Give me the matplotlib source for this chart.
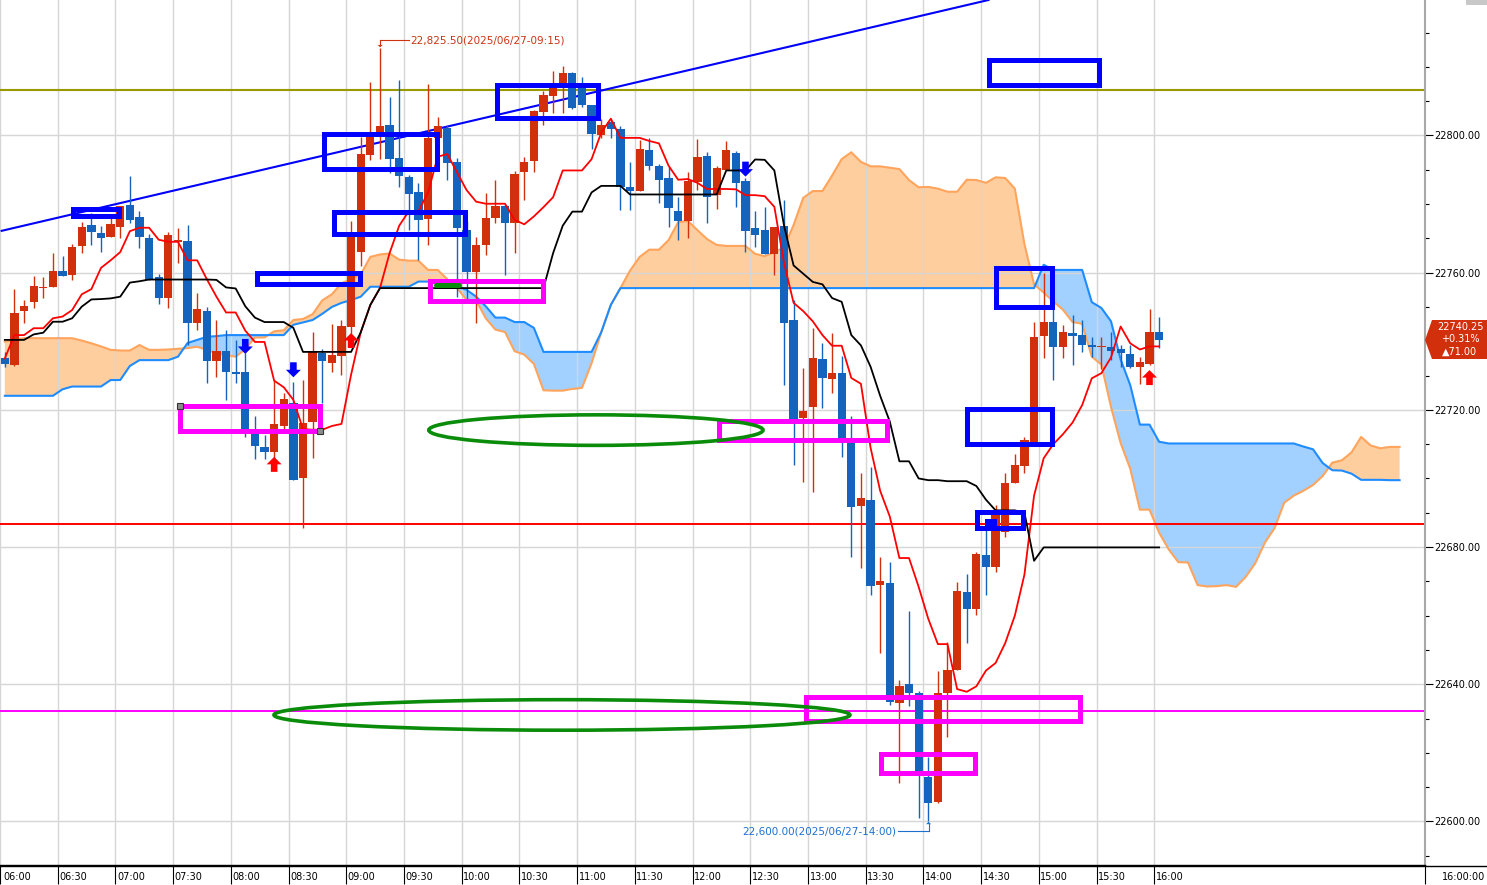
import numpy as np
import matplotlib
matplotlib.use("Agg")
import matplotlib.pyplot as plt
from matplotlib.patches import Rectangle, Ellipse, Polygon
from matplotlib.lines import Line2D
from matplotlib.ticker import MultipleLocator, FuncFormatter, FixedLocator
from matplotlib.transforms import blended_transform_factory, ScaledTranslation

W, H, DPI = 1487, 885, 100

# ---------------- data (5-minute bars, 06:00 .. 16:00) ----------------
time_labels = ["06:00", "06:30", "07:00", "07:30", "08:00", "08:30", "09:00", "09:30",
               "10:00", "10:30", "11:00", "11:30", "12:00", "12:30", "13:00", "13:30",
               "14:00", "14:30", "15:00", "15:30", "16:00"]
bars_per_label = 6

opens = [22735.2, 22733.2, 22748.9, 22751.5, 22755.4, 22755.9, 22760.5, 22759.4, 22767.9, 22773.9,
         22771.6, 22770.4, 22773.4, 22779.7, 22776.2, 22770.0, 22758.8, 22752.7, 22769.0, 22769.2,
         22745.2, 22748.8, 22734.3, 22737.2, 22731.0, 22731.0, 22714.1, 22709.2, 22707.7, 22715.4,
         22722.1, 22700.2, 22716.5, 22736.7, 22733.8, 22735.8, 22744.3, 22766.1, 22794.3, 22799.6,
         22803.1, 22793.4, 22788.0, 22783.4, 22775.7, 22799.2, 22802.1, 22792.2, 22772.5, 22760.3,
         22768.1, 22776.0, 22779.4, 22774.6, 22789.4, 22792.7, 22806.9, 22811.6, 22814.2, 22818.2,
         22814.0, 22808.9, 22800.2, 22803.8, 22801.8, 22784.9, 22783.9, 22795.8, 22791.1, 22787.6,
         22778.1, 22775.2, 22786.5, 22794.0, 22782.6, 22789.9, 22794.8, 22786.7, 22773.1, 22772.4,
         22765.5, 22773.6, 22746.2, 22717.5, 22720.8, 22734.8, 22728.9, 22730.8, 22710.2, 22692.0,
         22693.7, 22668.9, 22669.6, 22634.5, 22640.1, 22637.4, 22613.1, 22605.8, 22637.4, 22644.3,
         22666.9, 22662.0, 22677.7, 22674.3, 22684.5, 22698.6, 22703.7, 22710.7, 22741.5, 22745.7,
         22738.4, 22742.5, 22741.8, 22738.9, 22738.2, 22738.2, 22737.7, 22736.3, 22732.6, 22733.5,
         22742.75]
highs = [22737.0, 22755.2, 22752.0, 22759.0, 22758.8, 22765.8, 22764.9, 22768.3, 22774.9, 22777.4,
         22773.5, 22776.0, 22779.4, 22788.2, 22778.0, 22771.3, 22759.5, 22772.0, 22772.9, 22773.9,
         22754.0, 22750.1, 22746.2, 22743.3, 22740.4, 22736.6, 22718.2, 22712.7, 22728.7, 22725.0,
         22728.2, 22728.7, 22742.8, 22737.8, 22745.0, 22746.2, 22775.1, 22799.6, 22815.7, 22825.5,
         22811.3, 22816.2, 22788.5, 22786.0, 22815.0, 22805.5, 22803.0, 22793.4, 22775.0, 22770.5,
         22783.1, 22787.0, 22780.0, 22789.5, 22793.6, 22807.5, 22813.0, 22818.8, 22820.3, 22818.5,
         22817.0, 22809.0, 22804.7, 22804.5, 22802.8, 22792.4, 22798.7, 22799.2, 22791.6, 22790.9,
         22782.1, 22789.4, 22799.0, 22795.3, 22791.2, 22798.4, 22795.5, 22787.5, 22778.1, 22779.1,
         22773.3, 22781.3, 22752.0, 22732.1, 22743.8, 22739.6, 22742.5, 22735.7, 22718.2, 22701.7,
         22703.4, 22677.2, 22675.5, 22641.3, 22661.5, 22638.0, 22618.7, 22643.8, 22652.4, 22669.9,
         22672.0, 22678.7, 22687.9, 22692.3, 22701.5, 22707.0, 22712.1, 22745.7, 22759.8, 22750.0,
         22744.8, 22747.7, 22746.2, 22741.3, 22741.3, 22742.8, 22738.9, 22738.9, 22735.5, 22749.5,
         22747.2]
lows = [22732.5, 22732.9, 22745.4, 22749.8, 22752.5, 22755.9, 22759.1, 22758.0, 22765.8, 22768.1,
        22766.1, 22770.4, 22770.0, 22774.6, 22767.1, 22758.0, 22751.0, 22749.8, 22762.7, 22738.9,
        22743.3, 22727.9, 22729.7, 22722.9, 22727.9, 22712.2, 22705.6, 22705.6, 22703.0, 22714.1,
        22699.5, 22685.5, 22705.9, 22721.9, 22731.1, 22730.2, 22741.3, 22762.0, 22792.9, 22793.0,
        22789.0, 22785.0, 22772.4, 22763.7, 22768.1, 22798.5, 22787.0, 22753.0, 22752.0, 22745.2,
        22765.2, 22774.4, 22759.3, 22765.8, 22781.2, 22789.4, 22803.0, 22806.5, 22806.5, 22807.6,
        22808.4, 22796.0, 22799.2, 22799.2, 22778.3, 22778.3, 22783.9, 22790.0, 22780.4, 22773.4,
        22769.5, 22770.0, 22784.1, 22774.6, 22778.5, 22789.9, 22779.1, 22766.1, 22767.6, 22765.5,
        22759.3, 22727.3, 22703.9, 22699.1, 22696.1, 22720.5, 22725.0, 22706.4, 22677.2, 22673.8,
        22666.0, 22649.0, 22634.0, 22611.1, 22633.7, 22601.0, 22600.0, 22605.5, 22624.7, 22644.3,
        22651.9, 22660.2, 22666.0, 22672.8, 22683.0, 22698.6, 22701.5, 22710.7, 22735.0, 22728.7,
        22735.0, 22733.1, 22737.0, 22735.5, 22731.8, 22734.6, 22732.6, 22732.3, 22727.5, 22733.1,
        22738.0]
closes = [22733.4, 22748.2, 22750.3, 22756.1, 22755.9, 22760.5, 22759.1, 22767.5, 22773.3, 22771.9,
          22770.2, 22774.2, 22779.4, 22775.4, 22770.5, 22758.0, 22752.7, 22771.0, 22769.5, 22745.2,
          22749.4, 22734.3, 22737.2, 22731.0, 22730.6, 22714.1, 22709.6, 22707.6, 22715.9, 22723.2,
          22699.5, 22716.3, 22737.3, 22734.3, 22736.0, 22744.5, 22772.0, 22794.6, 22799.9, 22802.9,
          22793.2, 22788.3, 22782.9, 22775.4, 22799.4, 22802.8, 22791.9, 22773.1, 22760.3, 22768.1,
          22775.9, 22779.4, 22774.4, 22788.8, 22792.3, 22807.0, 22811.8, 22814.3, 22818.2, 22807.9,
          22809.0, 22800.5, 22803.1, 22801.8, 22784.9, 22783.9, 22796.1, 22791.2, 22787.0, 22779.0,
          22775.2, 22786.7, 22793.7, 22782.2, 22790.5, 22795.8, 22786.2, 22772.1, 22771.0, 22765.5,
          22773.3, 22745.2, 22717.4, 22719.8, 22735.2, 22729.2, 22730.8, 22711.4, 22691.8, 22694.4,
          22668.7, 22670.2, 22634.9, 22639.5, 22637.4, 22614.5, 22605.5, 22637.4, 22644.3, 22667.2,
          22662.0, 22678.0, 22674.3, 22689.9, 22698.8, 22703.9, 22711.2, 22741.3, 22745.7, 22738.4,
          22742.8, 22741.5, 22738.8, 22738.2, 22738.6, 22737.3, 22736.5, 22732.4, 22734.0, 22742.75,
          22740.25]

# conversion line (red) and base line (black)
tenkan = [22735.0, 22741.8, 22741.8, 22743.8, 22743.8, 22746.7, 22747.2, 22749.1, 22753.7, 22755.2,
          22761.4, 22763.6, 22766.0, 22772.1, 22773.1, 22773.1, 22769.6, 22769.0, 22769.0, 22763.6,
          22763.6, 22758.1, 22753.0, 22748.4, 22748.4, 22743.1, 22739.8, 22739.8, 22728.5, 22726.6,
          22722.9, 22714.4, 22714.2, 22714.2, 22715.3, 22715.9, 22730.3, 22742.6, 22750.6, 22755.5,
          22765.7, 22773.7, 22777.9, 22777.9, 22783.4, 22793.8, 22794.6, 22789.3, 22784.1, 22780.7,
          22780.1, 22780.1, 22780.1, 22775.4, 22774.1, 22776.4, 22779.1, 22782.0, 22789.8, 22789.8,
          22789.8, 22793.1, 22800.8, 22804.9, 22799.3, 22799.3, 22799.3, 22798.4, 22797.7, 22791.2,
          22787.1, 22787.3, 22786.2, 22784.4, 22784.4, 22784.4, 22784.3, 22782.6, 22782.6, 22782.3,
          22779.2, 22762.9, 22751.2, 22748.8, 22745.8, 22741.8, 22738.7, 22738.7, 22729.3, 22727.6,
          22709.0, 22696.4, 22688.9, 22676.8, 22676.8, 22668.4, 22659.1, 22651.7, 22651.7, 22638.6,
          22637.8, 22639.4, 22644.0, 22646.2, 22652.0, 22660.0, 22672.0, 22695.0, 22705.9, 22710.0,
          22712.9, 22716.3, 22721.4, 22729.2, 22730.7, 22735.3, 22744.3, 22739.4, 22737.6, 22738.5,
          22738.5]
kijun = [22740.4, 22740.4, 22740.4, 22742.0, 22742.5, 22745.7, 22745.7, 22746.7, 22750.1, 22752.2,
         22752.3, 22752.5, 22753.0, 22757.1, 22757.5, 22758.0, 22758.0, 22758.0, 22758.0, 22758.0,
         22758.0, 22758.0, 22757.9, 22755.7, 22755.4, 22750.2, 22746.9, 22745.6, 22745.6, 22745.6,
         22743.9, 22736.9, 22736.9, 22736.9, 22736.9, 22736.9, 22736.9, 22742.6, 22750.6, 22755.5,
         22755.5, 22755.5, 22755.5, 22755.5, 22755.5, 22755.5, 22755.5, 22755.5, 22755.5, 22755.5,
         22755.5, 22755.5, 22755.5, 22755.5, 22755.5, 22755.5, 22755.5, 22765.7, 22773.7, 22777.8,
         22777.8, 22783.4, 22785.3, 22785.3, 22785.3, 22782.8, 22782.8, 22782.8, 22782.8, 22782.8,
         22782.8, 22782.8, 22782.8, 22782.8, 22782.8, 22789.8, 22789.8, 22789.8, 22793.0, 22792.9,
         22789.8, 22773.8, 22762.1, 22759.7, 22757.3, 22756.6, 22752.6, 22751.5, 22741.8, 22738.8,
         22732.6, 22724.1, 22716.6, 22705.0, 22705.0, 22700.0, 22699.5, 22699.5, 22699.2, 22699.2,
         22699.2, 22697.8, 22693.8, 22690.7, 22690.7, 22690.7, 22690.0, 22676.0, 22679.9, 22679.9,
         22679.9, 22679.9, 22679.9, 22679.9, 22679.9, 22679.9, 22679.9, 22679.9, 22679.9, 22679.9,
         22679.9]

# leading spans (cloud), drawn 25 bars ahead: orange edge and blue edge
span_a = [22739.9, 22740.5, 22740.9, 22740.9, 22740.9, 22740.9, 22740.9, 22740.9, 22740.2, 22739.4,
          22738.5, 22737.5, 22737.3, 22737.3, 22738.9, 22737.5, 22737.5, 22737.6, 22737.8, 22738.0,
          22738.4, 22737.5, 22736.5, 22736.0, 22735.5, 22737.7, 22741.1, 22741.1, 22742.9, 22743.2,
          22746.2, 22746.5, 22747.9, 22751.9, 22753.7, 22756.9, 22758.1, 22759.5, 22764.6, 22765.3,
          22765.6, 22763.8, 22763.5, 22763.5, 22760.8, 22760.8, 22758.1, 22755.5, 22752.1, 22751.9,
          22746.7, 22743.4, 22742.7, 22737.1, 22736.1, 22733.4, 22725.7, 22725.6, 22725.6, 22726.1,
          22726.4, 22733.6, 22742.6, 22750.6, 22755.5, 22760.6, 22764.6, 22766.7, 22766.7, 22769.5,
          22774.7, 22775.1, 22772.4, 22769.8, 22768.1, 22767.8, 22767.8, 22767.8, 22765.5, 22764.8,
          22766.0, 22767.3, 22773.9, 22781.8, 22783.8, 22783.8, 22788.3, 22793.1, 22795.1, 22792.3,
          22791.0, 22791.0, 22790.6, 22790.2, 22787.0, 22784.9, 22785.0, 22784.5, 22783.6, 22783.6,
          22787.1, 22787.0, 22786.2, 22787.8, 22787.6, 22784.5, 22768.3, 22756.6, 22754.2, 22751.6,
          22749.2, 22745.6, 22745.1, 22735.5, 22733.2, 22720.8, 22710.3, 22702.8, 22690.9, 22690.9,
          22684.2, 22679.3, 22675.6, 22675.5, 22668.9, 22668.5, 22668.6, 22668.9, 22668.4, 22671.3,
          22675.3, 22681.3, 22685.5, 22692.9, 22695.0, 22696.4, 22698.1, 22700.7, 22704.6, 22705.3,
          22707.6, 22712.1, 22709.6, 22708.8, 22709.2, 22709.2]
span_b = ([22724.1] * 6 + [22726.0] + [22726.8] * 4 + [22728.7] * 2 + [22732.8] + [22734.5] * 4 +
          [22735.5, 22739.5, 22740.4, 22741.3, 22741.5] + [22741.8] * 7 +
          [22744.8, 22745.5, 22746.2, 22748.0, 22750.0, 22751.2, 22752.0, 22753.0] + [22755.9] * 5 +
          [22757.4] * 3 + [22756.4, 22756.0, 22755.0, 22753.0, 22750.2, 22746.9, 22746.9, 22745.6,
          22745.6, 22743.9] + [22736.9] * 6 + [22742.6, 22750.6] + [22755.5] * 44 + [22762.3] +
          [22760.8] * 4 + [22751.4, 22749.7, 22745.8, 22734.7, 22727.2, 22715.7, 22715.7, 22710.7] +
          [22710.2] * 14 + [22709.3, 22708.5, 22704.5, 22702.4, 22702.3, 22701.4, 22699.6, 22699.6,
          22699.6, 22699.5, 22699.5])

level_olive = 22813.25
level_red = 22686.75
level_magenta = 22632.25
trend_x = [-0.33, 102.26]
trend_y = [22772.2, 22839.5]

last_price_text = ["22740.25", "+0.31%", "\u25b271.00"]
last_price = 22740.25
high_note = (39, 22825.50, "22,825.50(2025/06/27-09:15)")
low_note = (96, 22600.00, "22,600.00(2025/06/27-14:00)")

# drawn objects (time index, price)
blue_boxes = [(7.12, 11.87, 22776.4, 22778.5), (33.16, 44.89, 22790.2, 22800.4),
              (34.2, 47.87, 22771.2, 22777.55), (26.2, 36.97, 22756.65, 22759.85),
              (51.15, 61.71, 22805.05, 22814.65), (102.3, 113.74, 22814.6, 22822.15),
              (103.07, 108.89, 22749.85, 22761.5), (100.03, 108.89, 22710.0, 22720.2),
              (101.07, 105.85, 22685.5, 22690.3)]
blue_fill_box = (101.85, 103.17, 22684.8, 22688.1)
magenta_boxes = [(18.2, 32.81, 22713.9, 22721.0), (44.16, 55.9, 22751.8, 22757.65),
                 (74.28, 91.72, 22711.2, 22716.8), (83.31, 111.76, 22629.15, 22636.4),
                 (91.13, 100.89, 22614.1, 22619.6)]
green_ellipses = [(61.45, 22714.1, 34.75, 8.9), (57.92, 22631.05, 59.88, 8.9)]
green_stub = (44.84, 47.2, 22756.5)
up_arrows = [(28, 22706.3), (36, 22742.4), (119, 22731.6)]
down_arrows = [(25, 22736.3), (30, 22729.5), (77, 22788.0)]

# ---------------- figure ----------------
UP, DN = "#D22F0C", "#1464BE"
fig = plt.figure(figsize=(W / DPI, H / DPI), dpi=DPI)
fig.patch.set_facecolor("white")
ax = fig.add_axes([0, 20 / H, 1425 / W, 865 / H])
XL = (-0.332, 147.64)
YL = (22587.3, 22839.5)
ax.set_xlim(*XL)
ax.set_ylim(*YL)
px_x = (XL[1] - XL[0]) / 1425.0
px_y = (YL[1] - YL[0]) / 865.0

for s in ("top", "left"):
    ax.spines[s].set_visible(False)
ax.spines["bottom"].set_color("black")
ax.spines["bottom"].set_linewidth(1.0)
ax.spines["right"].set_color("#A8A8A8")
ax.spines["right"].set_linewidth(1.5)

# grid
grid_x = [i * bars_per_label - 0.5 for i in range(len(time_labels))]
yticks = list(range(22600, 22801, 40))
for gx in grid_x:
    ax.axvline(gx, color="#D6D6D6", lw=1.0, zorder=1.5)
for gy in yticks:
    ax.axhline(gy, color="#D6D6D6", lw=1.0, zorder=1.5)

# cloud
xc = np.arange(len(span_a))
a = np.array(span_a)
b = np.array(span_b)
ax.fill_between(xc, a, b, where=a >= b, interpolate=True, color="#FFCE9E", lw=0, zorder=1)
ax.fill_between(xc, a, b, where=b > a, interpolate=True, color="#A2D0FF", lw=0, zorder=1)
ax.plot(xc, a, color="#FFA45C", lw=1.5, zorder=2)
ax.plot(xc, b, color="#1E8CFF", lw=1.5, zorder=2.1)

# level lines & trend line
ax.axhline(level_olive, color="#999900", lw=1.5, zorder=2.2)
ax.axhline(level_red, color="#FF0000", lw=1.4, zorder=2.2)
ax.axhline(level_magenta, color="#FF00FF", lw=1.4, zorder=2.2)
ax.plot(trend_x, trend_y, color="#0000FF", lw=1.5, zorder=2.3)

# candles
idx = np.arange(len(opens))
o, hi, lo, c = map(np.array, (opens, highs, lows, closes))
cols = np.where(c >= o, UP, DN)
ax.vlines(idx, lo, hi, colors=cols, lw=1.0, zorder=3)
body_lo = np.minimum(o, c)
body_h = np.maximum(np.abs(c - o), 0.45)
ax.bar(idx, body_h, 0.86, bottom=body_lo, color=cols, lw=0, zorder=3.1)

# indicator lines
ax.plot(np.arange(len(tenkan)), tenkan, color="#FF0000", lw=1.3, zorder=4)
ax.plot(np.arange(len(kijun)), kijun, color="#000000", lw=1.3, zorder=4)

# drawn objects
for x0, x1, y0, y1 in blue_boxes:
    ax.add_patch(Rectangle((x0, y0), x1 - x0, y1 - y0, fill=False, ec="#0000FF", lw=3.6, zorder=10))
x0, x1, y0, y1 = blue_fill_box
ax.add_patch(Rectangle((x0, y0), x1 - x0, y1 - y0, fc="#0000FF", ec="none", zorder=10))
for x0, x1, y0, y1 in magenta_boxes:
    ax.add_patch(Rectangle((x0, y0), x1 - x0, y1 - y0, fill=False, ec="#FF00FF", lw=3.6, zorder=10))
mb = magenta_boxes[0]
ax.plot([mb[0], mb[1]], [mb[3], mb[2]], "s", ms=4.5, mfc="#8C8C8C", mec="#333333", mew=0.8, zorder=11)
for cx, cy, w, h in green_ellipses:
    ax.add_patch(Ellipse((cx, cy), w, h, fill=False, ec="#0A8C0A", lw=2.6, zorder=10))
ax.plot([green_stub[0], green_stub[1]], [green_stub[2], green_stub[2]], color="#0A8C0A",
        lw=3.6, solid_capstyle="round", zorder=10)


def block_arrow(x, tip, up, color):
    hw, sw = 7.5 * px_x, 3.3 * px_x
    L, hl = 15 * px_y, 7.5 * px_y
    s = 1 if up else -1
    neck, base = tip - s * hl, tip - s * L
    pts = [(x, tip), (x + hw, neck), (x + sw, neck), (x + sw, base),
           (x - sw, base), (x - sw, neck), (x - hw, neck)]
    ax.add_patch(Polygon(pts, closed=True, fc=color, ec="none", zorder=12))


for x, t in up_arrows:
    block_arrow(x, t, True, "#FF0000")
for x, t in down_arrows:
    block_arrow(x, t, False, "#0000FF")

# high / low notes
hx, hp, htxt = high_note
hc = "#CC3311"
ty = hp + 6 * px_y * 0.35 + 1.7
ax.plot([hx + 0.02, hx + 3.0], [ty, ty], color=hc, lw=0.8, zorder=12)
ax.plot([hx + 0.02, hx + 0.02], [ty, hp + 1.0], color=hc, lw=0.8, zorder=12)
ax.add_patch(Polygon([(hx + 0.02 - 2.5 * px_x, hp + 0.9), (hx + 0.02 + 2.5 * px_x, hp + 0.9),
                      (hx + 0.02, hp + 0.2)], closed=True, fc=hc, ec="none", zorder=12))
ax.text(hx + 3.2, ty, htxt, ha="left", va="center", fontsize=7.5, color=hc, zorder=12)

lx, lp, ltxt = low_note
lc = "#1F6FD0"
by = lp - 2.8
ax.plot([lx - 3.1, lx + 0.03], [by, by], color=lc, lw=0.8, zorder=12)
ax.plot([lx + 0.03, lx + 0.03], [by, lp - 0.6], color=lc, lw=0.8, zorder=12)
ax.add_patch(Polygon([(lx + 0.03 - 2.5 * px_x, lp - 0.8), (lx + 0.03 + 2.5 * px_x, lp - 0.8),
                      (lx + 0.03, lp - 0.1)], closed=True, fc=lc, ec="none", zorder=12))
ax.text(lx - 3.3, by, ltxt, ha="right", va="center", fontsize=7.5, color=lc, zorder=12)

# x axis
ax.set_xticks(grid_x + [XL[1]])
ax.tick_params(axis="x", length=14, width=0.8, direction="out", labelbottom=False, color="black")
tr = blended_transform_factory(ax.transData, ax.transAxes) + \
    ScaledTranslation(1.5 / DPI, -11.5 / DPI, fig.dpi_scale_trans)
for gx, lab in zip(grid_x, time_labels):
    ax.text(max(gx, XL[0]), 0, lab, transform=tr, ha="left", va="center", fontsize=7, clip_on=False)
fig.text(1485 / W, 1 - 877 / H, "16:00:00", ha="right", va="center", fontsize=7)
fig.add_artist(Line2D([0, 1], [1 - 865.5 / H, 1 - 865.5 / H], color="black", lw=1.0,
                      transform=fig.transFigure))

# y axis (right)
ax.yaxis.tick_right()
ax.yaxis.set_major_locator(FixedLocator(yticks))
ax.yaxis.set_minor_locator(MultipleLocator(10))
ax.yaxis.set_major_formatter(FuncFormatter(lambda v, p: f"{v:.2f}"))
ax.tick_params(axis="y", which="major", length=6, width=0.8, pad=1, labelsize=7, direction="out")
ax.tick_params(axis="y", which="minor", length=3, width=0.8, direction="out")

# last price box
def fpx(x, y):
    return (x / W, 1 - y / H)

box = [fpx(1425, 340), fpx(1432, 320), fpx(1487, 320), fpx(1487, 359), fpx(1432, 359)]
fig.add_artist(Polygon(box, closed=True, fc=UP, ec="none", transform=fig.transFigure))
for k, t in enumerate(last_price_text):
    fig.text(1460 / W, 1 - (327 + 12.5 * k) / H, t, ha="center", va="center",
             fontsize=7, color="white")
fig.add_artist(Rectangle(fpx(1466, 5), 21 / W, 5 / H, fc="#C8C8C8", ec="none",
                         transform=fig.transFigure))

fig.savefig("out.png", dpi=DPI)
